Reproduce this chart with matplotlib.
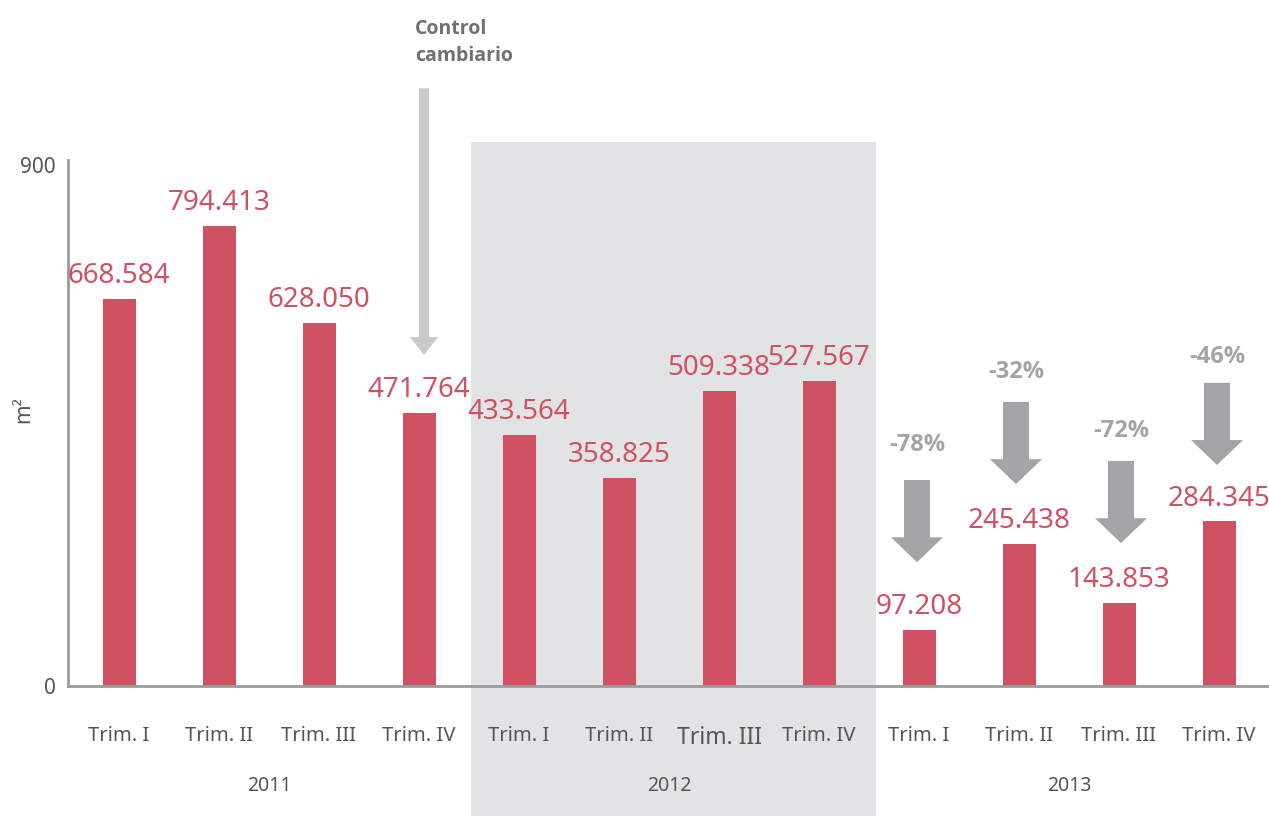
import numpy as np
import matplotlib
matplotlib.use('Agg')
import matplotlib.pyplot as plt
from matplotlib.patches import FancyArrow, Rectangle
import matplotlib.transforms as mtransforms

plt.rcParams['font.family'] = ['Noto Sans', 'DejaVu Sans']

quarters = ['Trim. I', 'Trim. II', 'Trim. III', 'Trim. IV'] * 3
years = ['2011', '2012', '2013']
values = [668.584, 794.413, 628.050, 471.764,
          433.564, 358.825, 509.338, 527.567,
          97.208, 245.438, 143.853, 284.345]
labels = ['668.584', '794.413', '628.050', '471.764',
          '433.564', '358.825', '509.338', '527.567',
          '97.208', '245.438', '143.853', '284.345']

# 2013 vs 2012 changes
changes = ['-78%', '-32%', '-72%', '-46%']
change_x = [7.98, 8.97, 10.02, 10.98]
change_top = [356, 491, 389, 524]
change_text_y = [416, 543, 441, 569]

red = '#D05262'
grey_arrow = '#A3A4A6'
band = '#E2E3E5'
axis_col = '#9A9B9D'
text_col = '#555555'
bold_font = ['Open Sans', 'Lato', 'DejaVu Sans']

fig = plt.figure(figsize=(12.69, 8.16), dpi=100)
ax = fig.add_axes([0.0536, 0.1593, 0.9464, 0.6446])
ax.set_facecolor('none')

x = np.arange(len(values))
ax.bar(x, values, width=0.33, color=red, zorder=2)

# 2012 shaded band
trans = mtransforms.blended_transform_factory(ax.transData, ax.transAxes)
ax.add_patch(Rectangle((3.52, -0.25), 4.05, 1.284, transform=trans,
                       facecolor=band, edgecolor='none', zorder=0, clip_on=False))

for xi, v, lab in zip(x, values, labels):
    ax.annotate(lab, (xi, v), xytext=(0, 11.5), textcoords='offset points',
                ha='center', va='baseline', fontsize=20, color=red, zorder=3)

ax.set_xlim(-0.51, 11.5)
ax.set_ylim(0, 909)
ax.set_yticks([0, 900])
ax.set_yticklabels(['0', '900'], fontsize=15, color=text_col)
ax.set_xticks(x)
ax.set_xticklabels(quarters, fontsize=14.5, color=text_col)
ax.get_xticklabels()[6].set_fontsize(16.5)
ax.tick_params(axis='both', length=0)
ax.tick_params(axis='x', pad=29)
ax.tick_params(axis='y', pad=9)
for s in ['top', 'right']:
    ax.spines[s].set_visible(False)
for s in ['left', 'bottom']:
    ax.spines[s].set_color(axis_col)
    ax.spines[s].set_linewidth(2)
ax.set_ylabel('m²', fontsize=15, color=text_col)
ax.yaxis.set_label_coords(-0.028, 0.525)

for i, yr in enumerate(years):
    ax.text(1.5 + 4 * i, -0.19, yr, transform=trans, ha='center', va='center',
            fontsize=14, color=text_col)

# control cambiario arrow
ax.add_patch(FancyArrow(3.05, 1033, 0, 572 - 1033, width=0.10, head_width=0.28,
                        head_length=31, length_includes_head=True,
                        color='#C8C8C8', lw=0, clip_on=False, zorder=3))
ax.text(2.96, 1112, 'Control\ncambiario', ha='left', va='center', fontsize=14,
        fontweight='bold', family=bold_font, color='#707070', linespacing=1.5)

for cx, top, ty, c in zip(change_x, change_top, change_text_y, changes):
    ax.add_patch(FancyArrow(cx, top, 0, -142, width=0.26, head_width=0.52,
                            head_length=43, length_includes_head=True,
                            color=grey_arrow, lw=0, zorder=3))
    ax.text(cx, ty, c, ha='center', va='center', fontsize=17,
            fontweight='bold', family=bold_font, color=grey_arrow)

fig.savefig('out.png', dpi=100)
